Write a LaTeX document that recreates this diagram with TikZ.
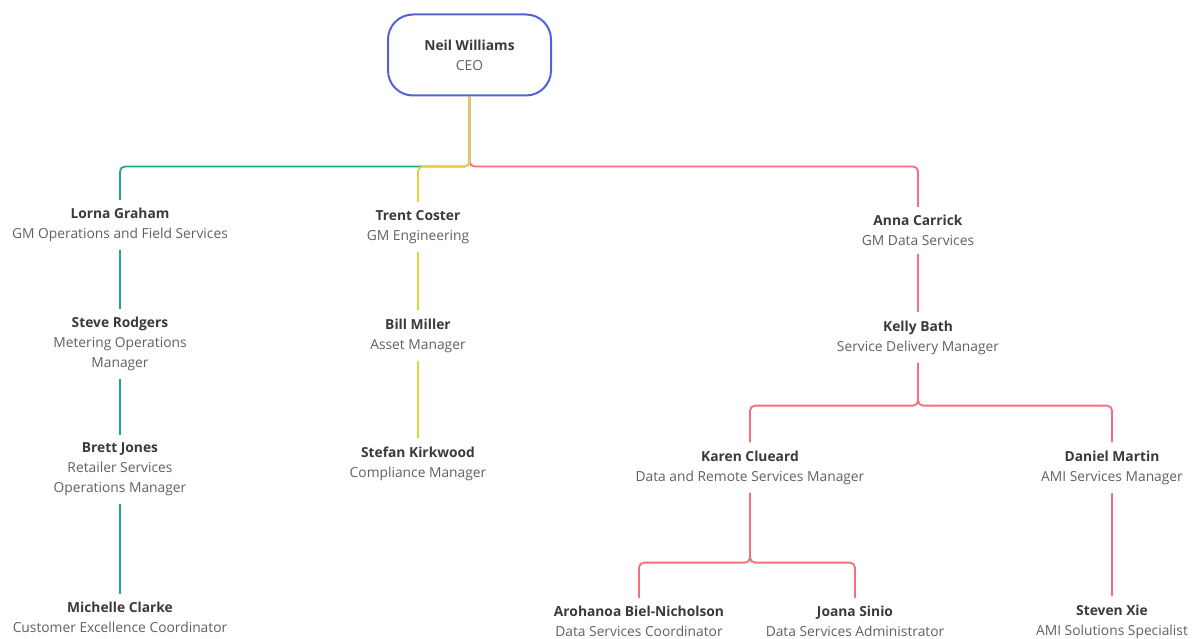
\documentclass[tikz,border=0pt]{standalone}
\usepackage{fontspec}
\setmainfont{Open Sans}
\definecolor{bosscol}{HTML}{5360DC}
\definecolor{opscol}{HTML}{1EA78B}
\definecolor{engcol}{HTML}{F0CC45}
\definecolor{datacol}{HTML}{F66E7C}
\definecolor{namecol}{HTML}{3A3A3A}
\definecolor{rolecol}{HTML}{606060}
\newcommand{\person}[2]{{\bfseries\color{namecol}#1}\\#2}
\tikzset{
  staff/.style={align=center,text=rolecol,inner xsep=2pt,inner ysep=8pt,
    font=\fontsize{13.8}{20}\selectfont},
  boss/.style={staff,draw=bosscol,line width=2pt,rounded corners=25pt,
    minimum width=163pt,minimum height=81pt},
  link/.style={line width=1.8pt,rounded corners=5pt}
}
\begin{document}
\begin{tikzpicture}[x=1pt,y=1pt]
\useasboundingbox (0,0) rectangle (1202,-639);
% top
\node[boss] (ceo) at (469.5,-55) {\person{Neil Williams}{CEO}};
% operations
\node[staff] (lorna) at (120,-225) {\person{Lorna Graham}{GM Operations and Field Services}};
\node[staff] (steve) at (120,-344) {\person{Steve Rodgers}{Metering Operations\\Manager}};
\node[staff] (brett) at (120,-469.5) {\person{Brett Jones}{Retailer Services\\Operations Manager}};
\node[staff] (michelle) at (120,-617.5) {\person{Michelle Clarke}{Customer Excellence Coordinator}};
% engineering
\node[staff] (trent) at (418,-227) {\person{Trent Coster}{GM Engineering}};
\node[staff] (bill) at (418,-335.5) {\person{Bill Miller}{Asset Manager}};
\node[staff] (stefan) at (418,-463.5) {\person{Stefan Kirkwood}{Compliance Manager}};
% data
\node[staff] (anna) at (918,-230.5) {\person{Anna Carrick}{GM Data Services}};
\node[staff] (kelly) at (918,-337.5) {\person{Kelly Bath}{Service Delivery Manager}};
\node[staff] (karen) at (750,-467.5) {\person{Karen Clueard}{Data and Remote Services Manager}};
\node[staff] (daniel) at (1112,-467.5) {\person{Daniel Martin}{AMI Services Manager}};
\node[staff] (aroha) at (639,-621.5) {\person{Arohanoa Biel-Nicholson}{Data Services Coordinator}};
\node[staff] (joana) at (855,-621.5) {\person{Joana Sinio}{Data Services Administrator}};
\node[staff] (steven) at (1112,-621.5) {\person{Steven Xie}{AMI Solutions Specialist}};
% links
\draw[link,opscol](ceo.south)--++(0,-70)-|(lorna.north);
\draw[link,datacol](ceo.south)--++(0,-70)-|(anna.north);
\draw[link,engcol](ceo.south)--++(0,-70)-|(trent.north);
\draw[link,opscol](lorna)--(steve) (steve)--(brett) (brett)--(michelle);
\draw[link,engcol](trent)--(bill) (bill)--(stefan);
\draw[link,datacol](anna)--(kelly) (daniel)--(steven);
\draw[link,datacol](kelly.south)--++(0,-43)-|(karen.north) (kelly.south)--++(0,-43)-|(daniel.north);
\draw[link,datacol](karen.south)--++(0,-70)-|(aroha.north) (karen.south)--++(0,-70)-|(joana.north);
\end{tikzpicture}
\end{document}
